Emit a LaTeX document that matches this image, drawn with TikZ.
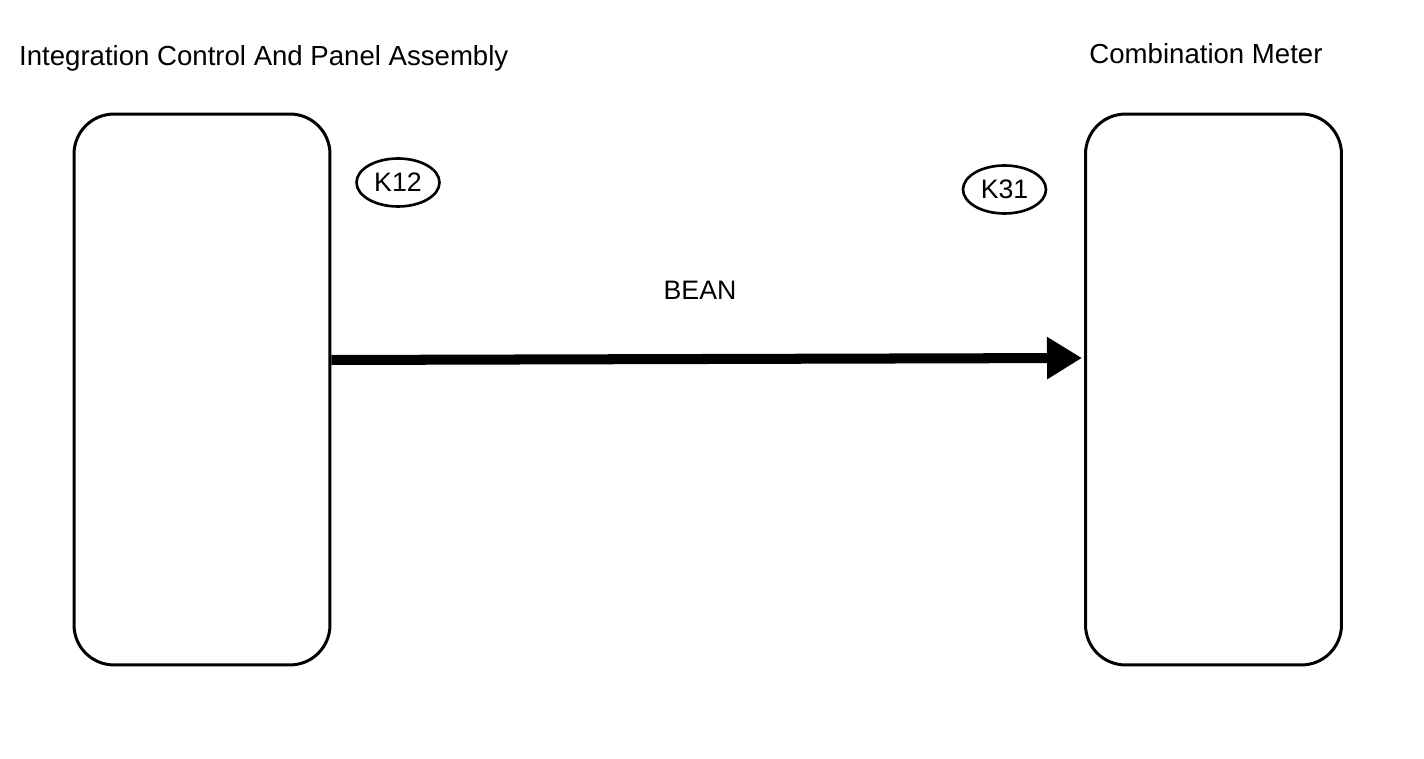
\documentclass[tikz,border=0pt]{standalone}
\usepackage{fontspec}
\setmainfont{Liberation Sans}
\usetikzlibrary{arrows.meta,shapes.geometric}
\begin{document}
\begin{tikzpicture}[x=0.02cm,y=-0.02cm,
	unit/.style={draw, line width=1.7pt, rounded corners=0.8cm, minimum width=5.12cm, minimum height=11.02cm},
	conn/.style={draw, ellipse, line width=1.5pt, minimum width=1.66cm, minimum height=0.96cm, inner sep=0pt},
	lbl/.style={font=\fontsize{15.2}{18}\selectfont},
	ttl/.style={font=\fontsize{15.7}{19}\selectfont}]
	\useasboundingbox (0,0) rectangle (1424,759);
	\node[unit] (icpa) at (202,389.5) {};
	\node[unit] (meter) at (1213.5,389.5) {};
	\node[ttl, anchor=west] (icpatitle) at (13,58) {Integration Control And Panel Assembly};
	\node[ttl] (metertitle) at (1206,54) {Combination Meter};
	\node[conn, lbl] (k12) at (398,182.5) {K12};
	\node[conn, lbl] (k31) at (1004.5,189.5) {K31};
	\coordinate (busend) at (1082,358);
	\draw[line width=5.7pt, -{Triangle[length=0.7cm, width=0.8cm]}] (icpa.east |- 0,360) -- (busend);
	\node[lbl] (bean) at (700,290) {BEAN};
\end{tikzpicture}
\end{document}
